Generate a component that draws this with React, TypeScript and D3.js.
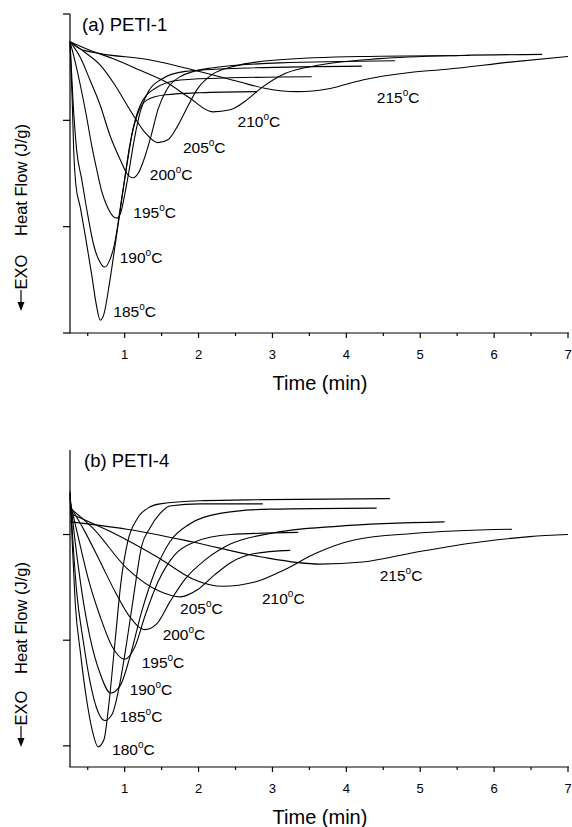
import React from "react";
import * as d3 from "d3";

type Pt = [number, number];

// time (min), heat flow (a.u., one y tick = 1 unit)
const timeTicks = [1, 2, 3, 4, 5, 6, 7];
const timeMinorTicks = [0.5, 1.5, 2.5, 3.5, 4.5, 5.5, 6.5];

// ---- (a) PETI-1 ----
const tempsA = ["185", "190", "195", "200", "205", "210", "215"];
const a185: Pt[] = [[0.26, 2.74], [0.29, 2.19], [0.31, 1.72], [0.34, 1.39], [0.4, 1.18], [0.48, 0.86], [0.56, 0.52], [0.61, 0.29], [0.67, 0.12], [0.72, 0.18], [0.79, 0.45], [0.88, 0.87], [0.98, 1.35], [1.07, 1.77], [1.17, 2.05], [1.3, 2.19], [1.55, 2.24], [2.02, 2.26], [2.79, 2.27]];
const a190: Pt[] = [[0.26, 2.74], [0.3, 2.19], [0.35, 1.72], [0.42, 1.44], [0.5, 1.11], [0.58, 0.83], [0.67, 0.66], [0.73, 0.62], [0.8, 0.69], [0.86, 0.83], [0.91, 1.03], [0.96, 1.27], [1.03, 1.58], [1.11, 1.91], [1.21, 2.14], [1.41, 2.3], [1.75, 2.38], [2.43, 2.4], [3.53, 2.41]];
const a195: Pt[] = [[0.26, 2.74], [0.33, 2.55], [0.4, 2.33], [0.48, 2.05], [0.56, 1.74], [0.63, 1.51], [0.69, 1.33], [0.77, 1.18], [0.84, 1.1], [0.9, 1.08], [0.95, 1.14], [1.0, 1.3], [1.06, 1.53], [1.13, 1.82], [1.21, 2.08], [1.32, 2.27], [1.48, 2.38], [1.82, 2.46], [2.56, 2.49], [4.21, 2.51]];
const a200: Pt[] = [[0.26, 2.74], [0.4, 2.59], [0.53, 2.38], [0.67, 2.14], [0.8, 1.86], [0.94, 1.63], [1.03, 1.5], [1.11, 1.46], [1.19, 1.51], [1.27, 1.65], [1.36, 1.86], [1.45, 2.1], [1.57, 2.29], [1.75, 2.41], [2.15, 2.49], [3.1, 2.54], [4.66, 2.56]];
const a205: Pt[] = [[0.26, 2.74], [0.46, 2.64], [0.67, 2.52], [0.87, 2.33], [1.07, 2.1], [1.27, 1.89], [1.45, 1.79], [1.59, 1.82], [1.72, 1.95], [1.86, 2.14], [1.99, 2.3], [2.18, 2.43], [2.49, 2.51], [3.1, 2.57], [4.18, 2.6], [5.67, 2.61]];
const a210: Pt[] = [[0.26, 2.74], [0.53, 2.66], [0.88, 2.57], [1.21, 2.47], [1.56, 2.36], [1.88, 2.21], [2.19, 2.08], [2.43, 2.1], [2.63, 2.18], [2.86, 2.31], [3.17, 2.44], [3.64, 2.52], [4.45, 2.58], [5.54, 2.61], [6.65, 2.62]];
const a215: Pt[] = [[0.26, 2.74], [0.4, 2.67], [0.65, 2.63], [1.33, 2.57], [2.01, 2.46], [2.56, 2.36], [2.91, 2.3], [3.33, 2.27], [3.78, 2.3], [4.22, 2.38], [4.86, 2.45], [5.36, 2.48], [6.25, 2.55], [7.0, 2.6]];
const curvesA = [a185, a190, a195, a200, a205, a210, a215];

// ---- (b) PETI-4 ----
const tempsB = ["180", "185", "190", "195", "200", "205", "210", "215"];
const b180: Pt[] = [[0.26, 2.41], [0.29, 1.93], [0.33, 1.36], [0.4, 0.89], [0.48, 0.46], [0.56, 0.15], [0.64, -0.01], [0.72, 0.06], [0.79, 0.42], [0.87, 0.99], [0.95, 1.55], [1.04, 1.93], [1.17, 2.15], [1.34, 2.26], [1.48, 2.29], [2.02, 2.32], [2.91, 2.33], [4.59, 2.34]];
const b185: Pt[] = [[0.26, 2.39], [0.3, 1.93], [0.35, 1.46], [0.44, 0.99], [0.53, 0.61], [0.64, 0.32], [0.73, 0.24], [0.83, 0.3], [0.94, 0.61], [1.03, 0.99], [1.13, 1.46], [1.23, 1.89], [1.34, 2.06], [1.48, 2.2], [1.61, 2.27], [2.02, 2.29], [2.87, 2.29]];
const b190: Pt[] = [[0.26, 2.36], [0.33, 1.93], [0.42, 1.46], [0.53, 1.03], [0.67, 0.68], [0.81, 0.5], [0.94, 0.57], [1.07, 0.84], [1.23, 1.27], [1.41, 1.65], [1.61, 1.93], [1.88, 2.1], [2.29, 2.2], [2.97, 2.24], [4.41, 2.25]];
const b195: Pt[] = [[0.26, 2.31], [0.37, 1.98], [0.5, 1.6], [0.67, 1.22], [0.83, 0.94], [1.0, 0.82], [1.14, 0.94], [1.27, 1.22], [1.45, 1.55], [1.68, 1.81], [1.95, 1.93], [2.43, 2.0], [3.35, 2.02]];
const b200: Pt[] = [[0.26, 2.27], [0.46, 2.03], [0.67, 1.74], [0.87, 1.46], [1.07, 1.22], [1.27, 1.1], [1.44, 1.16], [1.61, 1.36], [1.82, 1.58], [2.09, 1.76], [2.43, 1.91], [2.97, 2.01], [3.91, 2.08], [5.33, 2.12]];
const b205: Pt[] = [[0.26, 2.25], [0.57, 2.06], [1.03, 1.68], [1.48, 1.46], [1.75, 1.41], [1.99, 1.48], [2.22, 1.62], [2.45, 1.74], [2.76, 1.82], [3.24, 1.85]];
const b210: Pt[] = [[0.26, 2.2], [0.8, 2.03], [1.48, 1.77], [1.92, 1.58], [2.33, 1.51], [2.76, 1.55], [3.17, 1.67], [3.58, 1.82], [4.12, 1.95], [4.9, 2.01], [6.24, 2.05]];
const b215: Pt[] = [[0.26, 2.12], [1.03, 2.05], [1.92, 1.93], [2.83, 1.79], [3.64, 1.72], [4.22, 1.74], [4.99, 1.84], [5.81, 1.93], [6.48, 1.98], [7.0, 2.0]];
const curvesB = [b180, b185, b190, b195, b200, b205, b210, b215];

const FONT = "'Liberation Sans', Arial, Helvetica, sans-serif";

type PanelProps = {
  title: string;
  titleX: number;
  top: number;
  bottom: number;
  yDomain: [number, number];
  yTicks: number[];
  temps: string[];
  curves: Pt[][];
  labelOffsets: [number, number][];
  ylabelY: number;
  exoY: number;
};

function Panel(p: PanelProps) {
  const x = d3.scaleLinear().domain([0.26, 7]).range([70, 568]);
  const y = d3.scaleLinear().domain(p.yDomain).range([p.bottom, p.top]);
  const line = d3
    .line<Pt>()
    .x((d) => x(d[0]))
    .y((d) => y(d[1]))
    .curve(d3.curveMonotoneX);

  const x0 = x.range()[0];
  const x1 = x.range()[1];

  return (
    <g>
      {/* curves */}
      {p.curves.map((c, i) => (
        <path key={i} d={line(c) || ""} fill="none" stroke="#000" strokeWidth={1.1} />
      ))}

      {/* temperature labels, next to each curve's minimum */}
      {p.curves.map((c, i) => {
        const m = c.reduce((a, b) => (b[1] < a[1] ? b : a));
        const [dx, dy] = p.labelOffsets[i];
        return (
          <text key={"l" + i} x={x(m[0]) + dx} y={y(m[1]) + dy} fontSize={15.5} fontFamily={FONT}>
            {p.temps[i]}
            <tspan dy={-7} fontSize={10}>o</tspan>
            <tspan dy={7}>C</tspan>
          </text>
        );
      })}

      {/* y axis */}
      <line x1={x0} x2={x0} y1={p.top} y2={p.bottom} stroke="#000" strokeWidth={1.2} />
      {p.yTicks.map((t) => (
        <line key={"yt" + t} x1={x0 - 7} x2={x0} y1={y(t)} y2={y(t)} stroke="#000" strokeWidth={1.2} />
      ))}

      {/* x axis */}
      <line x1={x0 - 0.6} x2={x1 + 1} y1={p.bottom} y2={p.bottom} stroke="#000" strokeWidth={1.2} />
      {timeTicks.map((t) => (
        <g key={"xt" + t}>
          <line x1={x(t)} x2={x(t)} y1={p.bottom} y2={p.bottom + 5} stroke="#000" strokeWidth={1.2} />
          <text x={x(t)} y={p.bottom + 26} textAnchor="middle" fontSize={13} fontFamily={FONT}>
            {t}
          </text>
        </g>
      ))}
      {timeMinorTicks.map((t) => (
        <line key={"xm" + t} x1={x(t)} x2={x(t)} y1={p.bottom} y2={p.bottom + 3} stroke="#000" strokeWidth={1.2} />
      ))}
      <text x={(x0 + x1) / 2 + 1} y={p.bottom + 57} textAnchor="middle" fontSize={20} fontFamily={FONT}>
        Time (min)
      </text>

      {/* y title */}
      <text
        transform={`translate(27,${p.ylabelY}) rotate(-90)`}
        textAnchor="middle"
        fontSize={16.5}
        fontFamily={FONT}
      >
        Heat Flow (J/g)
      </text>
      <text transform={`translate(27,${p.exoY}) rotate(-90)`} textAnchor="middle" fontSize={16.5} fontFamily={FONT}>
        EXO
      </text>
      <line x1={21} x2={21} y1={p.exoY + 18} y2={p.exoY + 32} stroke="#000" strokeWidth={1.2} />
      <path d={`M17.5,${p.exoY + 30} L24.5,${p.exoY + 30} L21,${p.exoY + 39} Z`} fill="#000" />

      {/* panel title */}
      <text x={p.titleX} y={p.top + 17} fontSize={18.5} fontFamily={FONT}>
        {p.title}
      </text>
    </g>
  );
}

export default function App() {
  return (
    <div style={{ position: "absolute", left: 0, top: 0, background: "#fff" }}>
      <svg width={572} height={827} style={{ display: "block" }}>
        <rect width={572} height={827} fill="#fff" />
        <Panel
          title="(a) PETI-1"
          titleX={82}
          top={14}
          bottom={333}
          yDomain={[0, 3]}
          yTicks={[0, 1, 2, 3]}
          temps={tempsA}
          curves={curvesA}
          labelOffsets={[[13, -3], [15, -4], [16, 0], [17, 2], [25, 10], [25, 15], [80, 11]]}
          ylabelY={180}
          exoY={272}
        />
        <Panel
          title="(b) PETI-4"
          titleX={84}
          top={450}
          bottom={767}
          yDomain={[-0.2, 2.8]}
          yTicks={[0, 1, 2]}
          temps={tempsB}
          curves={curvesB}
          labelOffsets={[[14, 8], [15, 1], [19, 2], [17, 9], [18, 10], [0, 17], [39, 18], [60, 17]]}
          ylabelY={618}
          exoY={708}
        />
      </svg>
    </div>
  );
}
